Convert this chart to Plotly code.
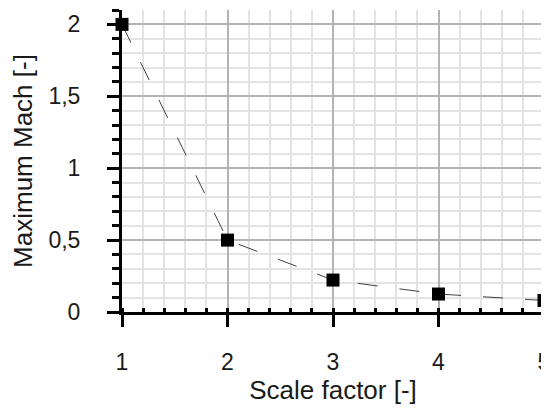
import plotly.graph_objects as go

scale_factor = [1, 2, 3, 4, 5]
max_mach = [2.0, 0.5, 0.222, 0.125, 0.08]
x_ticks = [1, 2, 3, 4, 5]
y_ticks = [0, 0.5, 1, 1.5, 2]

FONT = "Liberation Sans, Arial, sans-serif"

fig = go.Figure()
fig.add_trace(go.Scatter(
    x=scale_factor, y=max_mach,
    mode="lines+markers",
    line=dict(color="#404040", width=1, dash="20px,22px"),
    marker=dict(symbol="square", size=13, color="black"),
    cliponaxis=False,
    showlegend=False,
))

# page body has an 8px default margin, so the figure is shifted by 8px
fig.update_layout(
    width=549, height=410, autosize=False,
    margin=dict(l=114, r=13, t=2, b=106),
    plot_bgcolor="white", paper_bgcolor="white",
    separators=", ",
    font=dict(family=FONT, size=23, color="#1a1a1a"),
)

fig.update_xaxes(
    range=[1, 5], tickvals=x_ticks,
    showline=True, linecolor="black", linewidth=3,
    ticks="outside", ticklen=12, tickwidth=3, tickcolor="black",
    ticklabelstandoff=15,
    showgrid=True, gridcolor="#b4b4b4", gridwidth=2,
    zeroline=False, automargin=False,
    minor=dict(dtick=0.2, tick0=1, showgrid=True, gridcolor="#e4e4e4", gridwidth=2,
               ticks="inside", ticklen=4, tickwidth=3, tickcolor="black"),
    title=dict(text="Scale factor [-]", font=dict(size=26), standoff=8),
)
fig.update_yaxes(
    range=[0, 2.1], tickvals=y_ticks,
    showline=True, linecolor="black", linewidth=3,
    ticks="outside", ticklen=12, tickwidth=3, tickcolor="black",
    ticklabelstandoff=22,
    showgrid=True, gridcolor="#b4b4b4", gridwidth=2,
    zeroline=False, automargin=False,
    minor=dict(dtick=0.1, tick0=0, showgrid=True, gridcolor="#e4e4e4", gridwidth=2,
               ticks="outside", ticklen=7, tickwidth=3, tickcolor="black"),
    title=dict(text="Maximum Mach [-]", font=dict(size=26), standoff=10),
)

fig.write_html("out.html")
